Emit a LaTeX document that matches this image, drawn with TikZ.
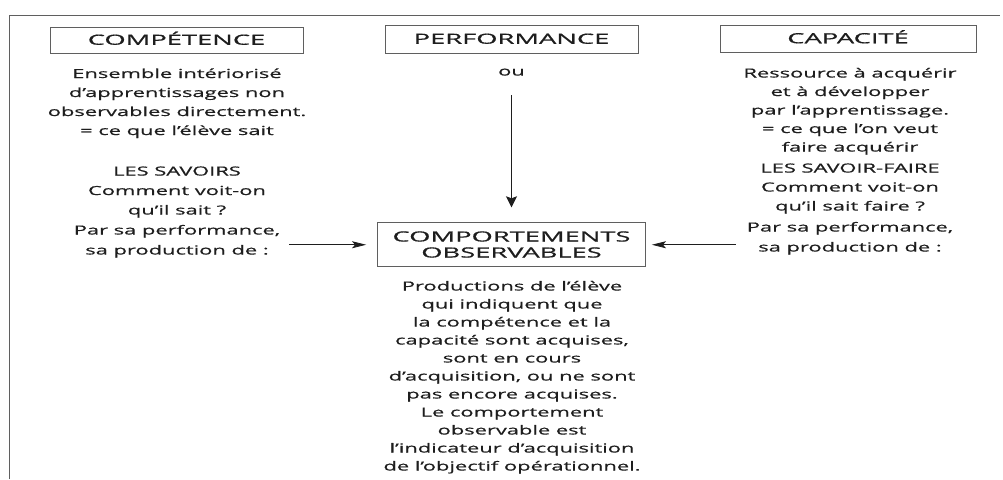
\documentclass[tikz,border=0pt]{standalone}
\usepackage{fontspec}
\setmainfont{Open Sans}[FakeStretch=1.75, FakeBold=0.6]
\newfontfamily\labelfont{Open Sans}[FakeStretch=1.95, FakeBold=0.7]
\usetikzlibrary{arrows.meta}
\definecolor{ink}{HTML}{1E1E1E}
\definecolor{rule}{HTML}{5F5F5F}
\begin{document}
\begin{tikzpicture}[x=1pt,y=-1pt,
  % multi-line text nodes are placed by the baseline of their last line
  body/.style={font=\fontsize{12.5}{#1}\selectfont, text=ink, align=center,
               inner sep=0pt, anchor=base},
  titlebox/.style={draw=rule, line width=0.9pt, text=ink, inner sep=0pt,
               font=\labelfont\fontsize{14}{16}\selectfont, align=center,
               text height=9.5pt, text depth=0pt},
  frameline/.style={draw=rule, line width=1pt},
  downarrow/.style={draw=ink, line width=0.8pt,
               -{Stealth[length=11pt,width=11pt,inset=2pt]}},
  sidearrow/.style={draw=ink, line width=0.8pt,
               -{Stealth[length=14pt,width=7pt,inset=3pt]}}]

\fill[white] (0,0) rectangle (1003,479);
\useasboundingbox (0,0) rectangle (1003,479);

% outer frame: left rule and top rule
\coordinate (frameBL) at (9,479);
\coordinate (frameTL) at (9,15);
\coordinate (frameTR) at (1000,15);
\draw[frameline] (frameBL) -- (frameTL) -- (frameTR);

% three column headings
\node[titlebox, minimum width=253pt, minimum height=26pt] (comp) at (176.5,40) {COMPÉTENCE};
\node[titlebox, minimum width=253pt, minimum height=28pt] (perf) at (511.5,39) {PERFORMANCE};
\node[titlebox, minimum width=256pt, minimum height=27pt] (capa) at (848,38.5) {CAPACITÉ};

% left column
\node[body=19] (compdef) at (177,135) {Ensemble intériorisé\\d’apprentissages non\\observables directement.\\= ce que l’élève sait};
\node[body=19.5] (savoirs) at (177,214.5) {LES SAVOIRS\\Comment voit-on\\qu’il sait ?};
\node[body=20] (compprod) at (177,254.5) {Par sa performance,\\sa production de :};

% middle column
\node[body=16] (ou) at (511.5,75.5) {ou};
\node[titlebox, minimum width=268pt, minimum height=44pt, text height=25.5pt]
  (obs) at (511.5,244.75) {COMPORTEMENTS\\OBSERVABLES};
\node[body=18] (obsdef) at (512,470.5) {Productions de l’élève\\qui indiquent que\\la compétence et la\\capacité sont acquises,\\sont en cours\\d’acquisition, ou ne sont\\pas encore acquises.\\Le comportement\\observable est\\l’indicateur d’acquisition\\de l’objectif opérationnel.};

% right column
\node[body=18.5] (capadef) at (850,151.5) {Ressource à acquérir\\et à développer\\par l’apprentissage.\\= ce que l’on veut\\faire acquérir};
\node[body=19] (savoirfaire) at (850,210.5) {LES SAVOIR-FAIRE\\Comment voit-on\\qu’il sait faire ?};
\node[body=20] (capaprod) at (850,251.5) {Par sa performance,\\sa production de :};

% connectors
\draw[downarrow, shorten <=19.5pt, shorten >=15pt] (ou) -- (obs);
\draw[sidearrow, shorten <=9pt, shorten >=11pt] (compprod.east |- obs.west) -- (obs.west);
\draw[sidearrow, shorten <=11pt, shorten >=6pt] (capaprod.west |- obs.east) -- (obs.east);
\end{tikzpicture}
\end{document}
